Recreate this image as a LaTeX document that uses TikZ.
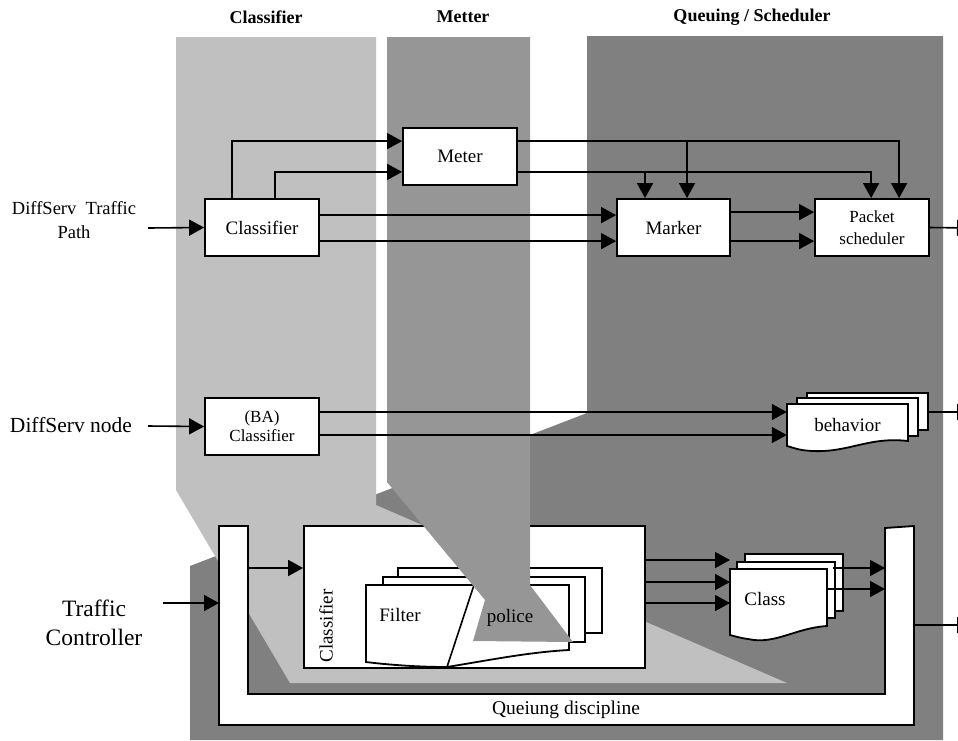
\documentclass[tikz,border=0pt]{standalone}
\usepackage{fontspec}
\setmainfont{Liberation Serif}
\usetikzlibrary{arrows.meta}
\definecolor{lg}{gray}{0.753}
\definecolor{mg}{gray}{0.588}
\definecolor{dg}{gray}{0.5}
\tikzset{
 arr/.style={line width=1.6pt, -{Triangle[length=15pt,width=16pt]}},
 ln/.style={line width=1.6pt},
 box/.style={draw, line width=1.8pt, fill=white, inner sep=0pt, minimum width=114pt, minimum height=57pt, align=center, font=\fontsize{19}{21}\selectfont},
 lbl/.style={align=center, inner sep=0pt},
 txt/.style={inner sep=0pt, font=\fontsize{19}{21}\selectfont},
 ttl/.style={font=\fontsize{18}{20}\selectfont\bfseries, inner sep=0pt},
 sheet/.style={draw, line width=1.8pt, fill=white},
}
\begin{document}
\begin{tikzpicture}[x=1pt,y=-1pt]
\useasboundingbox (0,0) rectangle (958,740);
\fill[white] (0,0) rectangle (958,740);
% background columns
\fill[dg] (587,36) -- (943,36) -- (943,740) -- (190,740) -- (190,566) -- (587,413) -- cycle;
\fill[lg] (176,37) -- (376,37) -- (376,505) -- (787,683) -- (290,683) -- (176,490) -- cycle;
\fill[mg] (387,37) -- (530,37) -- (530,585) -- (573,642) -- (473,641) -- (485,600) -- (387,482) -- cycle;

% titles
\node[ttl] (t1) at (266,17) {Classifier};
\node[ttl] (t2) at (463,17) {Metter};
\node[ttl] (t3) at (752,17) {Queuing / Scheduler};

% left labels
\node[lbl, font=\fontsize{18.5}{24}\selectfont] (l1) at (74,220) {DiffServ\ \ Traffic\\Path};
\node[lbl, font=\fontsize{21.5}{24}\selectfont] (l2) at (71,425) {DiffServ node};
\node[lbl, font=\fontsize{23.5}{29}\selectfont] (l3) at (94,623) {Traffic\\Controller};

% top row
\node[box] (cls) at (262,227.5) {Classifier};
\node[box] (meter) at (460,156.5) {Meter};
\node[box, minimum width=113pt] (marker) at (673.5,227.5) {Marker};
\node[box, font=\fontsize{17}{22}\selectfont] (psched) at (872,227.5) {Packet\\scheduler};

\coordinate (in1) at (148,228);
\draw[arr] (in1) -- (cls.west);
\draw[arr] ([xshift=28pt]cls.north west) |- ([yshift=-14pt]meter.north west);
\draw[arr] ([xshift=71pt]cls.north west) |- ([yshift=14pt]meter.south west);
\draw[arr] ([yshift=-17pt]cls.north east) -- ([yshift=-17pt]marker.north west);
\draw[arr] ([yshift=-43pt]cls.north east) -- ([yshift=-43pt]marker.north west);
\draw[arr] ([yshift=-14pt]meter.north east) -| ([xshift=85pt]psched.north west);
\draw[arr] ([yshift=14pt]meter.south east) -| ([xshift=57pt]psched.north west);
\coordinate (j1) at (687,142);
\coordinate (j2) at (645,171);
\draw[arr] (j1) -- (j1 |- marker.north);
\draw[arr] (j2) -- (j2 |- marker.north);
\draw[arr] ([yshift=-14pt]marker.north east) -- ([yshift=-14pt]psched.north west);
\draw[arr] ([yshift=-43pt]marker.north east) -- ([yshift=-43pt]psched.north west);
\coordinate (o1) at (972,228);
\draw[arr] (psched.east) -- (o1);

% middle row
\node[box, font=\fontsize{17}{19}\selectfont] (ba) at (262,426.5) {(BA)\\Classifier};
\coordinate (in2) at (148,426);
\draw[arr] (in2) -- (ba.west);
\draw[sheet] (807,393) rectangle (928,430);
\draw[sheet] (797,398) rectangle (918,436);
\draw[sheet] (787,404) -- (908,404) -- (908,441) .. controls (865,436) and (845,456) .. (802,450) .. controls (796,449) and (791,447) .. (787,446) -- cycle;
\node[txt, minimum width=121pt, minimum height=42pt] (beh) at (847.5,425) {behavior};
\draw[arr] ([yshift=14.5pt]ba.east) -- ([yshift=13pt]beh.west);
\draw[arr] ([yshift=-8.5pt]ba.east) -- ([yshift=-10pt]beh.west);
\coordinate (bb) at (928,412);
\coordinate (o2) at (972,412);
\draw[arr] (bb) -- (o2);

% bottom: queueing discipline
\draw[sheet] (219,526) -- (248,526) -- (248,694) -- (885,694) -- (885,528) -- (914,526) -- (914,725) -- (219,725) -- cycle;
\node[txt, font=\fontsize{19.5}{22}\selectfont] (qd) at (566,710) {Queiung discipline};
\node[draw, line width=1.8pt, fill=white, minimum width=341pt, minimum height=142pt, inner sep=0pt] (qcls) at (474.5,597) {};
\node[txt, rotate=90] (vc) at (326,626) {Classifier};

% filter / police stack
\draw[sheet] (398,568) rectangle (602,633);
\draw[sheet] (383,577) rectangle (585,642);
\draw[sheet] (366,585) -- (569,585) -- (569,650) .. controls (530,652) and (490,660) .. (447,667) .. controls (420,667) and (390,665) .. (366,662) -- cycle;
\draw[ln] (474,585) -- (447,667);

% funnel of the meter column over the box
\begin{scope}
\clip (0,520) rectangle (958,740);
\fill[mg] (387,37) -- (530,37) -- (530,585) -- (573,642) -- (473,641) -- (485,600) -- (387,482) -- cycle;
\end{scope}
\node[txt] (flt) at (400,615) {Filter};
\node[txt] (pol) at (510,618) {police};

% class stack
\draw[sheet] (745,554) rectangle (843,611);
\draw[sheet] (737,562) rectangle (835,618);
\draw[sheet] (730,569) -- (827,569) -- (827,626) .. controls (795,628) and (775,645) .. (748,639) .. controls (740,638) and (734,636) .. (730,635) -- cycle;
\node[txt] (cl) at (765,599) {Class};

% bottom connectors
\coordinate (in3) at (163,603);
\coordinate (uL) at (219,603);
\draw[arr] (in3) -- (uL);
\coordinate (uLi) at (248,568);
\draw[arr] (uLi) -- (qcls.west |- uLi);
\coordinate (c1) at (730,560);
\coordinate (c2) at (730,582);
\coordinate (c3) at (730,603);
\draw[arr] (qcls.east |- c1) -- (c1);
\draw[arr] (qcls.east |- c2) -- (c2);
\draw[arr] (qcls.east |- c3) -- (c3);
\coordinate (s1) at (833,568);
\coordinate (s2) at (828,589);
\coordinate (r1) at (885,568);
\coordinate (r2) at (885,589);
\draw[arr] (s1) -- (r1);
\draw[arr] (s2) -- (r2);
\coordinate (uR) at (914,625);
\coordinate (o3) at (972,625);
\draw[arr] (uR) -- (o3);
\end{tikzpicture}
\end{document}
